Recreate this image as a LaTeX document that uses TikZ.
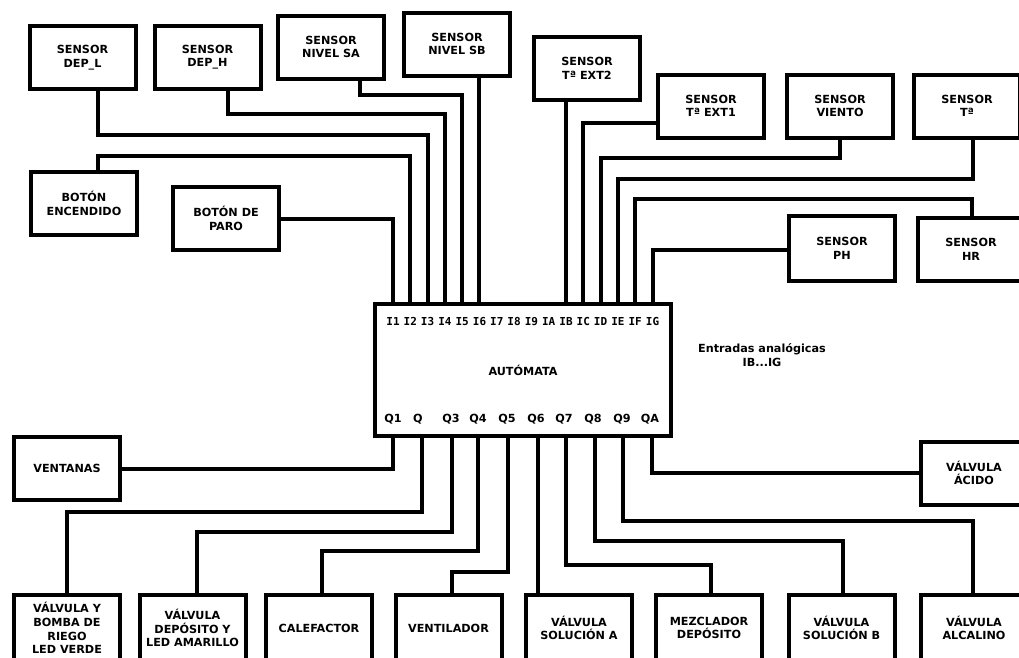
\documentclass[tikz,border=0pt]{standalone}
\usepackage{fontspec}
\setmainfont{DejaVu Sans}
\newfontfamily\pinfamily{DejaVu Sans Mono}
\newcommand\boxfont{\fontsize{11.2}{13.6}\selectfont\bfseries}
\newcommand\pinfont{\pinfamily\fontsize{11}{12}\selectfont\bfseries}
\tikzset{
  box/.style={draw, line width=4pt, minimum width=106pt, minimum height=63pt,
              align=center, inner sep=0pt, font=\boxfont},
  lowbox/.style={box, minimum height=66pt},
  wire/.style={line width=4pt},
  pinlbl/.style={inner sep=0pt, anchor=base, font=\pinfont},
  outlbl/.style={inner sep=0pt, anchor=base, font=\boxfont},
  note/.style={inner sep=0pt, align=center, font=\boxfont}
}
\begin{document}
\begin{tikzpicture}[x=1pt,y=-1pt]
\useasboundingbox (0,0) rectangle (1019,657);
\fill[white] (0,0) rectangle (1019,657);
\clip (0,0) rectangle (1019,657);
% top sensors
\node[box] (depl) at (82.5,57.5) {SENSOR\\DEP\_L};
\node[box] (deph) at (207.5,57) {SENSOR\\DEP\_H};
\node[box] (nsa) at (331,47) {SENSOR\\NIVEL SA};
\node[box] (nsb) at (457,44) {SENSOR\\NIVEL SB};
\node[box] (ext2) at (587,68.5) {SENSOR\\Tª EXT2};
\node[box] (ext1) at (711,106) {SENSOR\\Tª EXT1};
\node[box] (viento) at (840,106) {SENSOR\\VIENTO};
\node[box] (ta) at (967,106) {SENSOR\\Tª};
\node[box] (enc) at (84,203.5) {BOTÓN\\ENCENDIDO};
\node[box] (paro) at (226,218.5) {BOTÓN DE\\PARO};
\node[box, minimum height=65pt] (ph) at (842,248.5) {SENSOR\\PH};
\node[box] (hr) at (971,249.5) {SENSOR\\HR};
% automaton
\node[box, minimum width=296pt, minimum height=132pt] (aut) at (523,370) {AUTÓMATA};
\foreach \t [count=\k from 0] in {I1,I2,I3,I4,I5,I6,I7,I8,I9,IA,IB,IC,ID,IE,IF,IG}
  \node[pinlbl] (pin\k) at (393+17.3*\k,325) {\t};
\foreach \t/\x [count=\k] in {Q1/393,Q/418,Q3/451,Q4/478,Q5/507,Q6/536,Q7/564,Q8/593,Q9/622,QA/650}
  \node[outlbl] (out\k) at (\x,422) {\t};
\node[note] (analog) at (762,355) {Entradas analógicas\\IB...IG};
% outputs
\node[box] (vent) at (67,468.5) {VENTANAS};
\node[box] (acido) at (974,473) {VÁLVULA\\ÁCIDO};
\node[lowbox] (b1) at (67,628) {VÁLVULA Y\\BOMBA DE\\RIEGO\\LED VERDE};
\node[lowbox] (b2) at (192.5,628) {VÁLVULA\\DEPÓSITO Y\\LED AMARILLO};
\node[lowbox] (b3) at (319,628) {CALEFACTOR};
\node[lowbox] (b4) at (448.5,628) {VENTILADOR};
\node[lowbox] (b5) at (579,628) {VÁLVULA\\SOLUCIÓN A};
\node[lowbox] (b6) at (709,628) {MEZCLADOR\\DEPÓSITO};
\node[lowbox] (b7) at (841.5,628) {VÁLVULA\\SOLUCIÓN B};
\node[lowbox] (b8) at (974,628) {VÁLVULA\\ALCALINO};
% input wires
\draw[wire] (paro.east) -| (aut.north -| 393,0);
\draw[wire] ([xshift=14pt]enc.north) |- (410.3,156) -- (aut.north -| 410.3,0);
\draw[wire] ([xshift=15.5pt]depl.south) |- (427.6,135) -- (aut.north -| 427.6,0);
\draw[wire] ([xshift=20.5pt]deph.south) |- (444.9,114) -- (aut.north -| 444.9,0);
\draw[wire] ([xshift=29pt]nsa.south) |- (462.2,95) -- (aut.north -| 462.2,0);
\draw[wire] ([xshift=21.5pt]nsb.south) -- (aut.north -| 478.5,0);
\draw[wire] ([xshift=-21pt]ext2.south) -- (aut.north -| 566,0);
\draw[wire] (ext1.west |- 0,123) -| (aut.north -| 583.3,0);
\draw[wire] (viento.south) |- (600.6,158) -- (aut.north -| 600.6,0);
\draw[wire] ([xshift=6pt]ta.south) |- (617.9,179) -- (aut.north -| 617.9,0);
\draw[wire] ([xshift=1pt]hr.north) |- (635.2,199) -- (aut.north -| 635.2,0);
\draw[wire] (ph.west |- 0,250) -| (aut.north -| 652.5,0);
% output wires
\draw[wire] (aut.south -| 393,0) |- (vent.east);
\draw[wire] (aut.south -| 422,0) |- (67,512) -- (b1.north);
\draw[wire] (aut.south -| 452,0) |- (197,532) -- ([xshift=4.5pt]b2.north);
\draw[wire] (aut.south -| 478,0) |- (322,551) -- ([xshift=3pt]b3.north);
\draw[wire] (aut.south -| 508,0) |- (452,572) -- ([xshift=3.5pt]b4.north);
\draw[wire] (aut.south -| 538,0) -- ([xshift=-41pt]b5.north);
\draw[wire] (aut.south -| 566,0) |- (711,565) -- ([xshift=2pt]b6.north);
\draw[wire] (aut.south -| 595,0) |- (843,541) -- ([xshift=1.5pt]b7.north);
\draw[wire] (aut.south -| 623,0) |- (973,521) -- ([xshift=-1pt]b8.north);
\draw[wire] (aut.south -| 652,0) |- (acido.west);
\end{tikzpicture}
\end{document}
